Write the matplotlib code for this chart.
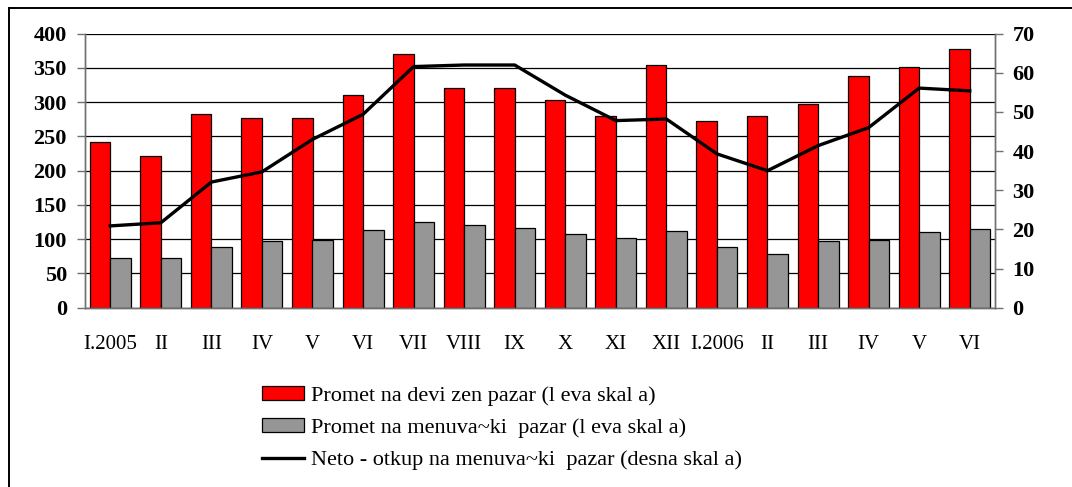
import matplotlib
matplotlib.use("Agg")
import matplotlib.pyplot as plt
from matplotlib.lines import Line2D
import numpy as np

# Monthly categories, Jan 2005 - Jun 2006
categories = ["I.2005", "II", "III", "IV", "V", "VI", "VII", "VIII", "IX",
              "X", "XI", "XII", "I.2006", "II", "III", "IV", "V", "VI"]

# Turnover on the foreign exchange market (left scale)
promet_devizen = [242, 222, 283, 277, 277, 311, 370, 320, 320,
                  303, 280, 354, 272, 280, 298, 338, 351, 377]

# Turnover on the exchange-office market (left scale)
promet_menuvacki = [72, 72, 89, 97, 99, 114, 125, 120, 117,
                    107, 102, 112, 89, 78, 97, 99, 110, 115]

# Net purchase on the exchange-office market (right scale)
neto_otkup = [20.9, 21.7, 32.1, 34.7, 43.0, 49.4, 61.6, 62.0, 62.0,
              54.3, 47.8, 48.2, 39.3, 35.0, 41.4, 46.0, 56.1, 55.4]

left_ticks = [0, 50, 100, 150, 200, 250, 300, 350, 400]
right_ticks = [0, 10, 20, 30, 40, 50, 60, 70]

labels = ["Promet na devi zen pazar (l eva skal a)",
          "Promet na menuva~ki  pazar (l eva skal a)",
          "Neto - otkup na menuva~ki  pazar (desna skal a)"]

W, H = 1072, 487
fig = plt.figure(figsize=(W / 100, H / 100), dpi=100)
fig.patch.set_facecolor("white")

x0, x1, y0, y1 = 85, 995, 33.7, 307.7
ax = fig.add_axes([x0 / W, 1 - y1 / H, (x1 - x0) / W, (y1 - y0) / H])
ax2 = ax.twinx()

serif = "Liberation Serif"
x = np.arange(len(categories))
bw = 0.405
red = "#FF0000"
gray = "#969696"

ax.set_axisbelow(True)
ax.bar(x - bw / 2, promet_devizen, width=bw, color=red, edgecolor="black",
       linewidth=0.9, zorder=2)
ax.bar(x + bw / 2, promet_menuvacki, width=bw, color=gray, edgecolor="black",
       linewidth=0.9, zorder=2)
ax.yaxis.grid(True, color="black", linewidth=0.9, zorder=0)

ax.set_xlim(-0.5, len(categories) - 0.5)
ax.set_ylim(0, 400)
ax.set_yticks(left_ticks)
ax.set_xticks(x)
ax.set_xticklabels(categories, fontfamily=serif, fontsize=15)
ax.tick_params(axis="x", length=0, pad=19.5)
ax.tick_params(axis="y", length=5.5, width=1.0, color="#707070", pad=7.5)
for t in ax.get_yticklabels():
    t.set_fontfamily(serif)
    t.set_fontweight("bold")
    t.set_fontsize(16)

ax2.plot(x, neto_otkup, color="black", linewidth=2.4, zorder=3)
ax2.set_ylim(0, 70)
ax2.set_yticks(right_ticks)
ax2.tick_params(axis="y", length=5.5, width=1.0, color="#707070", pad=7)
for t in ax2.get_yticklabels():
    t.set_fontfamily(serif)
    t.set_fontweight("bold")
    t.set_fontsize(16)

for a in (ax, ax2):
    a.spines["top"].set_visible(False)
    for s in ("left", "right", "bottom"):
        a.spines[s].set_color("#707070")
        a.spines[s].set_linewidth(1.0)

# Legend
handles = [
    plt.Rectangle((0, 0), 1, 1, facecolor=red, edgecolor="black", linewidth=0.9),
    plt.Rectangle((0, 0), 1, 1, facecolor=gray, edgecolor="black", linewidth=0.9),
    Line2D([0], [0], color="black", linewidth=2.4),
]
fig.legend(handles, labels, loc="upper left",
           bbox_to_anchor=(262 / W, 1 - 386 / H),
           frameon=False, prop={"family": serif, "size": 16},
           handlelength=1.9, handleheight=0.6, handletextpad=0.3,
           labelspacing=0.55, borderpad=0, borderaxespad=0)

# Outer frame
fig.add_artist(Line2D([8.5 / W, 8.5 / W], [0, 1 - 7.5 / H], color="black",
                      linewidth=1.4, transform=fig.transFigure))
fig.add_artist(Line2D([8.5 / W, 1], [1 - 7.5 / H, 1 - 7.5 / H], color="black",
                      linewidth=1.4, transform=fig.transFigure))

fig.savefig("out.png", dpi=100)
